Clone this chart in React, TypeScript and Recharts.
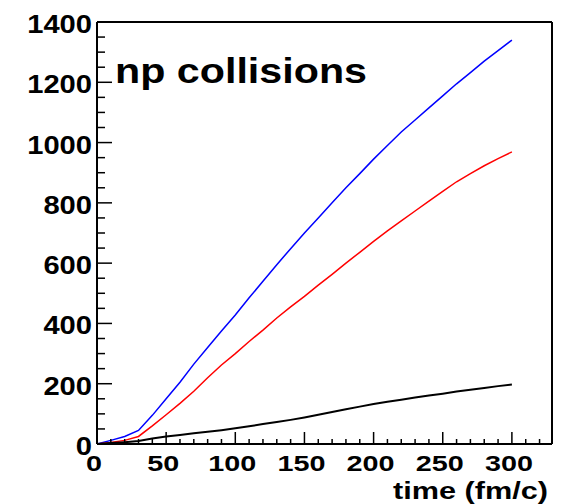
import { LineChart, Line, XAxis, YAxis, ReferenceLine } from 'recharts'

const times = [0, 10, 20, 30, 40, 50, 60, 70, 80, 90, 100, 110, 120, 130, 140, 150, 160, 170, 180, 190, 200, 210, 220, 230, 240, 250, 260, 270, 280, 290, 300]
const blueVals = [0, 12, 25, 45, 95, 150, 205, 265, 320, 375, 428, 485, 540, 595, 648, 700, 750, 800, 850, 897, 945, 990, 1035, 1075, 1115, 1155, 1195, 1232, 1270, 1305, 1340]
const redVals = [0, 5, 12, 25, 60, 97, 135, 175, 220, 262, 300, 340, 378, 418, 455, 490, 527, 563, 600, 636, 672, 707, 740, 773, 806, 838, 870, 897, 923, 947, 969]
const blackVals = [0, 3, 6, 10, 18, 25, 30, 36, 41, 46, 52, 59, 66, 73, 80, 88, 97, 106, 115, 124, 133, 140, 147, 154, 161, 167, 174, 180, 186, 192, 197]

const xTicks = [0, 10, 20, 30, 40, 50, 60, 70, 80, 90, 100, 110, 120, 130, 140, 150, 160, 170, 180, 190, 200, 210, 220, 230, 240, 250, 260, 270, 280, 290, 300, 310, 320]
const yTicks = [0, 50, 100, 150, 200, 250, 300, 350, 400, 450, 500, 550, 600, 650, 700, 750, 800, 850, 900, 950, 1000, 1050, 1100, 1150, 1200, 1250, 1300, 1350, 1400]

const title = 'np collisions'
const xTitle = 'time (fm/c)'

const data = times.map((t, i) => ({ t, blue: blueVals[i], red: redVals[i], black: blackVals[i] }))

const FONT = '"Liberation Sans", Arial, sans-serif'
const X_MAX = 329
const Y_MAX = 1400

const BottomTick = (p: any) => {
  const v = p.payload.value
  const major = v % 50 === 0
  const s = String(v)
  return (
    <g>
      <line x1={p.x} x2={p.x} y1={p.y} y2={p.y - (major ? 12 : 5)} stroke="#000" strokeWidth={1.5} />
      {major && (
        <text x={p.x - 3} y={p.y + 27} textAnchor="middle" fontFamily={FONT} fontWeight="bold" fontSize={22}
          textLength={s.length * 16} lengthAdjust="spacingAndGlyphs" fill="#000">{s}</text>
      )}
    </g>
  )
}

const TopTick = (p: any) => {
  const major = p.payload.value % 50 === 0
  return <line x1={p.x} x2={p.x} y1={p.y} y2={p.y + (major ? 11 : 6)} stroke="#000" strokeWidth={1.5} />
}

const LeftTick = (p: any) => {
  const v = p.payload.value
  const major = v % 200 === 0
  const s = String(v)
  return (
    <g>
      <line x1={p.x} x2={p.x + (major ? 15 : 8)} y1={p.y} y2={p.y} stroke="#000" strokeWidth={1.5} />
      {major && (
        <text x={p.x - 5} y={p.y + 11} textAnchor="end" fontFamily={FONT} fontWeight="bold" fontSize={25}
          textLength={s.length * 16.2} lengthAdjust="spacingAndGlyphs" fill="#000">{s}</text>
      )}
    </g>
  )
}

const RightTick = (p: any) => {
  const major = p.payload.value % 200 === 0
  return <line x1={p.x} x2={p.x - (major ? 13 : 7)} y1={p.y} y2={p.y} stroke="#000" strokeWidth={1.5} />
}

export default function App() {
  return (
    <div style={{ position: 'absolute', left: 0, top: 0, width: 561, height: 504, background: '#fff' }}>
      <LineChart width={561} height={504} data={data} margin={{ top: 22, right: 9, left: 0, bottom: 0 }}>
        <XAxis dataKey="t" type="number" domain={[0, X_MAX]} ticks={xTicks} interval={0} height={60}
          tickSize={0} tickMargin={0} tickLine={false} tick={<BottomTick />} axisLine={{ stroke: '#000', strokeWidth: 2 }} />
        <XAxis xAxisId="top" orientation="top" dataKey="t" type="number" domain={[0, X_MAX]} ticks={xTicks} interval={0} height={0}
          tickSize={0} tickMargin={0} tickLine={false} tick={<TopTick />} axisLine={{ stroke: '#000', strokeWidth: 2 }} />
        <YAxis type="number" domain={[0, Y_MAX]} ticks={yTicks} interval={0} width={97}
          tickSize={0} tickMargin={0} tickLine={false} tick={<LeftTick />} axisLine={{ stroke: '#000', strokeWidth: 2 }} />
        <YAxis yAxisId="right" orientation="right" type="number" domain={[0, Y_MAX]} ticks={yTicks} interval={0} width={0}
          tickSize={0} tickMargin={0} tickLine={false} tick={<RightTick />} axisLine={{ stroke: '#000', strokeWidth: 2 }} />
        <ReferenceLine x={X_MAX} stroke="#000" strokeWidth={2} />
        <ReferenceLine y={Y_MAX} stroke="#000" strokeWidth={2} />
        <Line dataKey="blue" type="linear" stroke="#0000ff" strokeWidth={1.5} dot={false} isAnimationActive={false} />
        <Line dataKey="red" type="linear" stroke="#ff0000" strokeWidth={1.5} dot={false} isAnimationActive={false} />
        <Line dataKey="black" type="linear" stroke="#000" strokeWidth={2} dot={false} isAnimationActive={false} />
        <text x={115} y={83} fontFamily={FONT} fontWeight="bold" fontSize={35} textLength={252} lengthAdjust="spacingAndGlyphs" fill="#000">{title}</text>
        <text x={393} y={499} fontFamily={FONT} fontWeight="bold" fontSize={23} textLength={155} lengthAdjust="spacingAndGlyphs" fill="#000">{xTitle}</text>
      </LineChart>
    </div>
  )
}
